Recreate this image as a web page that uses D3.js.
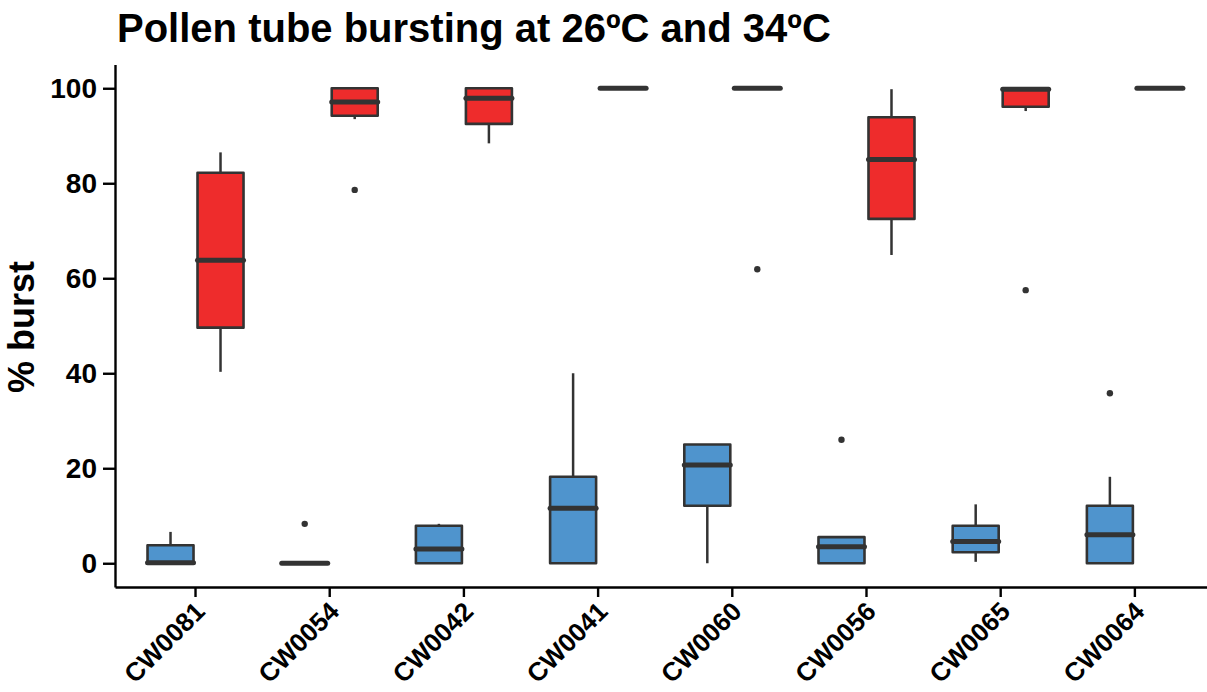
<!DOCTYPE html>
<html>
<head>
<meta charset="utf-8">
<script src="https://cdn.jsdelivr.net/npm/d3@7"></script>
<style>
	body { margin: 0; background: #fff; }
	svg { display: block; font-family: "Liberation Sans", Arial, sans-serif; }
	.axis text { font-weight: bold; font-size: 28px; fill: #000; }
	.axis path, .axis line { stroke: #000; stroke-width: 2.4px; }
	.x-axis text { font-size: 26px; }
</style>
</head>
<body>
<svg width="1207" height="692"></svg>
<script>
'use strict';

const categories = ["CW0081", "CW0054", "CW0042", "CW0041", "CW0060", "CW0056", "CW0065", "CW0064"];
const yTicks = [0, 20, 40, 60, 80, 100];

// 26ºC (blue)
const low26 = [0, 0, 0, 0, 0, 0, 0.3, 0];
const q1_26 = [0, 0, 0, 0, 12.1, 0, 2.3, 0];
const med26 = [0.1, 0, 3.0, 11.6, 20.7, 3.5, 4.6, 6.0];
const q3_26 = [3.8, 0, 7.9, 18.2, 25.0, 5.5, 7.9, 12.1];
const high26 = [6.6, 0, 8.3, 40.0, 25.0, 5.5, 12.4, 18.2];
const out26 = [[], [8.3], [], [], [], [26.0], [], [35.8]];

// 34ºC (red)
const low34 = [40.3, 93.5, 88.4, 100, 100, 64.9, 95.2, 100];
const q1_34 = [49.6, 94.2, 92.5, 100, 100, 72.5, 96.1, 100];
const med34 = [63.8, 97.1, 97.9, 100, 100, 85.0, 99.8, 100];
const q3_34 = [82.2, 100, 100, 100, 100, 93.9, 100, 100];
const high34 = [86.5, 100, 100, 100, 100, 99.8, 100, 100];
const out34 = [[], [78.6], [], [], [61.9], [], [57.5], []];

function buildChart() {
	const svg = d3.select("svg");

	const x = d3.scaleBand()
		.domain(categories)
		.range([115, 1215.4])
		.paddingInner(0)
		.paddingOuter(0.1);

	const y = d3.scaleLinear()
		.domain([-5, 105])
		.range([587, 64.5]);

	const series = [
		{ name: "26", color: "#4F94CD", offset: -25, low: low26, q1: q1_26, med: med26, q3: q3_26, high: high26, out: out26 },
		{ name: "34", color: "#EE2C2C", offset: 25, low: low34, q1: q1_34, med: med34, q3: q3_34, high: high34, out: out34 }
	];
	const boxWidth = 46;
	const stroke = "#333333";

	const plot = svg.append("g");

	series.forEach(s => {
		const rows = categories.map((c, i) => ({
			cx: x(c) + x.bandwidth() / 2 + s.offset,
			low: s.low[i], q1: s.q1[i], med: s.med[i], q3: s.q3[i], high: s.high[i], out: s.out[i]
		}));

		const g = plot.append("g").attr("class", "series-" + s.name);

		// whiskers
		g.selectAll("line.upper")
			.data(rows.filter(d => d.high > d.q3))
			.enter().append("line")
			.attr("x1", d => d.cx).attr("x2", d => d.cx)
			.attr("y1", d => y(d.q3)).attr("y2", d => y(d.high))
			.attr("stroke", stroke).attr("stroke-width", 2.5);
		g.selectAll("line.lower")
			.data(rows.filter(d => d.low < d.q1))
			.enter().append("line")
			.attr("x1", d => d.cx).attr("x2", d => d.cx)
			.attr("y1", d => y(d.q1)).attr("y2", d => y(d.low))
			.attr("stroke", stroke).attr("stroke-width", 2.5);

		// boxes
		g.selectAll("rect")
			.data(rows)
			.enter().append("rect")
			.attr("x", d => d.cx - boxWidth / 2)
			.attr("y", d => y(d.q3))
			.attr("width", boxWidth)
			.attr("height", d => y(d.q1) - y(d.q3))
			.attr("fill", s.color)
			.attr("stroke", stroke)
			.attr("stroke-width", 2.6)
			.attr("stroke-linejoin", "round");

		// medians
		g.selectAll("line.median")
			.data(rows)
			.enter().append("line")
			.attr("x1", d => d.cx - boxWidth / 2)
			.attr("x2", d => d.cx + boxWidth / 2)
			.attr("y1", d => y(d.med)).attr("y2", d => y(d.med))
			.attr("stroke", stroke)
			.attr("stroke-width", 5)
			.attr("stroke-linecap", "round");

		// outliers
		g.selectAll("circle")
			.data(rows.flatMap(d => d.out.map(v => ({ cx: d.cx, v: v }))))
			.enter().append("circle")
			.attr("cx", d => d.cx)
			.attr("cy", d => y(d.v))
			.attr("r", 3.2)
			.attr("fill", stroke);
	});

	// axes
	svg.append("g")
		.attr("class", "axis")
		.attr("transform", "translate(115,0)")
		.call(d3.axisLeft(y).tickValues(yTicks).tickSize(12).tickSizeOuter(0).tickPadding(6));

	const xAxis = svg.append("g")
		.attr("class", "axis x-axis")
		.attr("transform", "translate(0,587)")
		.call(d3.axisBottom(x).tickSize(10).tickSizeOuter(0));

	xAxis.selectAll("text")
		.attr("text-anchor", "end")
		.attr("dy", null)
		.attr("y", null)
		.attr("transform", "translate(11,26) rotate(-45)");

	// title and y label
	svg.append("text")
		.attr("x", 117)
		.attr("y", 42)
		.attr("font-size", 40)
		.attr("font-weight", "bold")
		.text("Pollen tube bursting at 26ºC and 34ºC");

	svg.append("text")
		.attr("transform", "translate(34,327) rotate(-90)")
		.attr("text-anchor", "middle")
		.attr("font-size", 36)
		.attr("font-weight", "bold")
		.text("% burst");
}

buildChart();
</script>
</body>
</html>
